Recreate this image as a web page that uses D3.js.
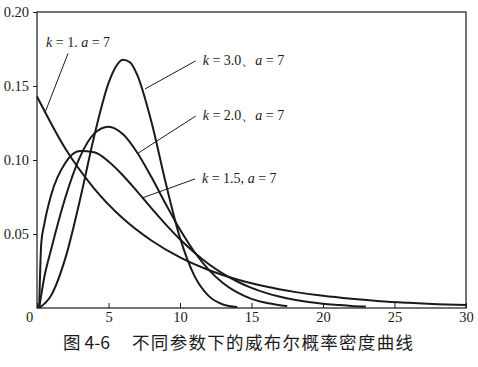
<!DOCTYPE html>
<html>
<head>
<meta charset="utf-8">
<script src="https://cdn.jsdelivr.net/npm/d3@7"></script>
<style>
  html, body { margin: 0; padding: 0; background: #fff; }
  svg { display: block; }
</style>
</head>
<body>
<svg id="chart" width="478" height="367"></svg>
<script>
// ---- data ----
const xTicks = [0, 5, 10, 15, 20, 25, 30];
const yTicks = [0.05, 0.10, 0.15, 0.20];
const yTickLabels = ["0.05", "0.10", "0.15", "0.20"];

const k1X = [0, 2, 4, 6, 8, 10, 12, 14, 16, 18, 20, 22, 24, 26, 28, 30];
const k1Y = [0.1429, 0.1074, 0.0807, 0.0606, 0.0456, 0.0342, 0.0257, 0.0193, 0.0145, 0.0109, 0.0082, 0.0062, 0.0046, 0.0035, 0.0026, 0.0020];

const k3X = [0.15, 1, 2, 3, 4, 5, 5.5, 6, 6.5, 7, 8, 9, 10, 11, 12, 13, 14];
const k3Y = [0, 0.0087, 0.0342, 0.0728, 0.1161, 0.1519, 0.1629, 0.1678, 0.1660, 0.1577, 0.1258, 0.0846, 0.0474, 0.0219, 0.0082, 0.0024, 0.0006];

const k2X = [0.15, 0.5, 1, 2, 3, 4, 5, 6, 7, 8, 9, 10, 11, 12, 13, 14, 15, 16, 17, 17.5];
const k2Y = [0, 0.0203, 0.0400, 0.0752, 0.1019, 0.1178, 0.1225, 0.1175, 0.1051, 0.0885, 0.0703, 0.0530, 0.0380, 0.0259, 0.0169, 0.0105, 0.0062, 0.0035, 0.0019, 0.0013];

const k15X = [0.15, 0.3, 0.5, 1, 2, 3, 4, 5, 6, 7, 8, 9, 10, 11, 12, 13, 14, 15, 16, 17, 18, 19, 20, 21, 22, 23];
const k15Y = [0, 0.0440, 0.0562, 0.0767, 0.0983, 0.1060, 0.1052, 0.0990, 0.0897, 0.0788, 0.0675, 0.0565, 0.0464, 0.0375, 0.0297, 0.0232, 0.0179, 0.0136, 0.0102, 0.0076, 0.0056, 0.0040, 0.0029, 0.0021, 0.0014, 0.0010];

// annotation labels
const labelK = ["1. ", "3.0、", "2.0、", "1.5, "];
// leader line: from (x0,y0) near the label to (x1,y1) on the curve, in data units
const leaderX0 = [2.17, 11.1, 11.1, 11.05];
const leaderY0 = [0.172, 0.167, 0.1297, 0.0872];
const leaderX1 = [0.56, 7.55, 7.05, 7.4];
const leaderY1 = [0.132, 0.148, 0.1045, 0.0745];

const captionNum = "图 4-6";
const captionText = "不同参数下的威布尔概率密度曲线";

// ---- drawing ----
const svg = d3.select("#chart");
const mLeft = 37, mRight = 466, mTop = 12, mBottom = 308;
const x = d3.scaleLinear().domain([0, 30]).range([mLeft, mRight]);
const y = d3.scaleLinear().domain([0, 0.2]).range([mBottom, mTop]);
const ink = "#1a1a1a";
const serif = "Liberation Serif, Times New Roman, DejaVu Serif, serif";

// frame
svg.append("rect")
  .attr("x", mLeft).attr("y", mTop)
  .attr("width", mRight - mLeft).attr("height", mBottom - mTop)
  .attr("fill", "none").attr("stroke", ink).attr("stroke-width", 1.2);

// x axis (ticks pointing up into the plot)
const xAxis = svg.append("g")
  .attr("transform", `translate(0,${mBottom})`)
  .attr("font-family", serif).attr("font-size", 14.5)
  .call(d3.axisBottom(x).tickValues(xTicks).tickSizeInner(-5).tickSizeOuter(0).tickPadding(4)
        .tickFormat(d3.format("d")));
xAxis.attr("font-family", serif).attr("font-size", 14.5);
xAxis.select(".domain").remove();
xAxis.selectAll(".tick line").attr("stroke", ink).attr("stroke-width", 1);
xAxis.selectAll(".tick text")
  .attr("fill", ink)
  .attr("dx", d => d === 0 ? -8 : 0);

// y axis
const yAxis = svg.append("g")
  .attr("transform", `translate(${mLeft},0)`)
  .call(d3.axisLeft(y).tickValues(yTicks).tickSizeInner(4).tickSizeOuter(0).tickPadding(4)
        .tickFormat((d, i) => yTickLabels[i]));
yAxis.attr("font-family", serif).attr("font-size", 14.5);
yAxis.select(".domain").remove();
yAxis.selectAll(".tick line").attr("stroke", ink).attr("stroke-width", 1);
yAxis.selectAll(".tick text").attr("fill", ink);

// curves
const line = d3.line()
  .x(d => x(d[0])).y(d => y(d[1]))
  .curve(d3.curveMonotoneX);
const series = [[k1X, k1Y], [k3X, k3Y], [k2X, k2Y], [k15X, k15Y]];
series.forEach(([xs, ys]) => {
  svg.append("path")
    .datum(xs.map((v, i) => [v, ys[i]]))
    .attr("d", line)
    .attr("fill", "none")
    .attr("stroke", ink)
    .attr("stroke-width", 2)
    .attr("stroke-linejoin", "round");
});

// annotations
labelK.forEach((kt, i) => {
  svg.append("line")
    .attr("x1", x(leaderX0[i])).attr("y1", y(leaderY0[i]))
    .attr("x2", x(leaderX1[i])).attr("y2", y(leaderY1[i]))
    .attr("stroke", ink).attr("stroke-width", 1);
  const tx = i === 0 ? x(leaderX0[i]) - 22 : x(leaderX0[i]) + 7;
  const ty = i === 0 ? y(leaderY0[i]) - 6 : y(leaderY0[i]) + 4;
  const t = svg.append("text")
    .attr("x", tx).attr("y", ty)
    .attr("font-family", serif).attr("font-size", 14).attr("fill", ink);
  t.append("tspan").attr("font-style", "italic").text("k");
  t.append("tspan").text(" = " + kt);
  t.append("tspan").attr("font-style", "italic").text("a");
  t.append("tspan").text(" = 7");
});

// caption
svg.append("text")
  .attr("x", 63).attr("y", 349)
  .attr("font-family", "Noto Sans CJK SC, sans-serif")
  .attr("font-size", 17.5).attr("fill", ink)
  .text(captionNum);
svg.append("text")
  .attr("x", 132).attr("y", 349)
  .attr("font-family", "Noto Sans CJK SC, sans-serif")
  .attr("font-size", 17.5).attr("fill", ink)
  .attr("textLength", 281).attr("lengthAdjust", "spacing")
  .text(captionText);
</script>
</body>
</html>
